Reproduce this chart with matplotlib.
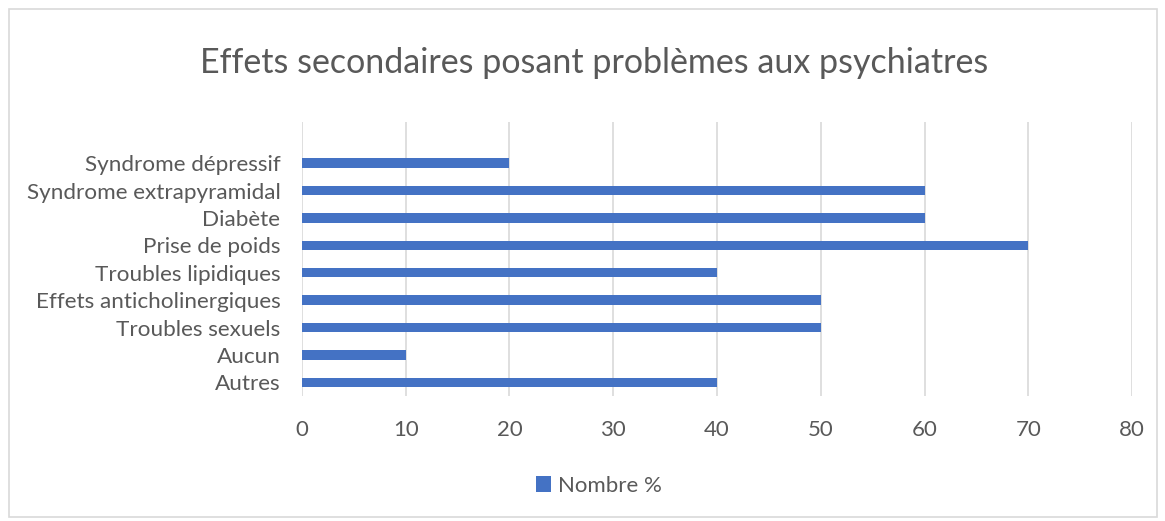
import matplotlib
matplotlib.use("Agg")
import matplotlib.pyplot as plt
from matplotlib.patches import Rectangle

# ==========================================
# Data
# ==========================================

categories = [
    "Autres",
    "Aucun",
    "Troubles sexuels",
    "Effets anticholinergiques",
    "Troubles lipidiques",
    "Prise de poids",
    "Diabète",
    "Syndrome extrapyramidal",
    "Syndrome dépressif",
]
values = [40, 10, 50, 50, 40, 70, 60, 60, 20]
x_ticks = [0, 10, 20, 30, 40, 50, 60, 70, 80]

series_name = "Nombre %"
title = "Effets secondaires posant problèmes aux psychiatres"

bar_color = "#4472C4"
text_color = "#595959"
grid_color = "#D9D9D9"

plt.rcParams["font.family"] = ["Lato", "DejaVu Sans"]

# ==========================================
# Figure
# ==========================================

fig = plt.figure(figsize=(11.65, 5.21), dpi=100)
ax = fig.add_axes([0.2592, 0.2399, 0.7125, 0.5259])

pos = list(range(len(categories)))
ax.barh(pos, values, height=0.34, color=bar_color, label=series_name, zorder=3)

ax.set_xlim(0, 80)
ax.set_ylim(-0.5, len(categories) + 0.5)
ax.set_xticks(x_ticks)
ax.set_xticklabels([str(t) for t in x_ticks])
ax.set_yticks(pos)
ax.set_yticklabels(categories)

ax.tick_params(axis="x", length=0, pad=17, labelsize=16, labelcolor=text_color)
ax.tick_params(axis="y", length=0, pad=15.5, labelsize=16.2, labelcolor=text_color)

ax.grid(axis="x", color=grid_color, linewidth=1.2, zorder=0)
for s in ax.spines.values():
    s.set_visible(False)

fig.text(0.51, 0.88, title, ha="center", va="center",
         fontsize=24.5, color=text_color)

leg = fig.legend(loc="center", bbox_to_anchor=(0.514, 0.068), frameon=False,
                 fontsize=16, handlelength=0.7, handleheight=0.7,
                 handletextpad=0.3)
for t in leg.get_texts():
    t.set_color(text_color)

# chart border
fig.patches.append(Rectangle((0.008, 0.008), 0.985, 0.975, transform=fig.transFigure,
                             fill=False, edgecolor=grid_color, linewidth=1.2))

fig.savefig("out.png", dpi=100)
